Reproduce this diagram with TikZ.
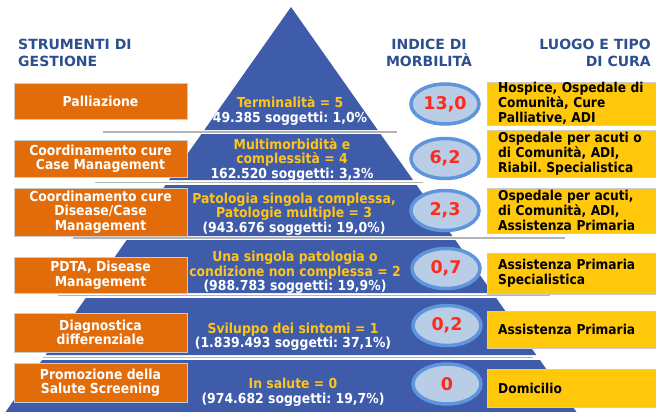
\documentclass[tikz,border=0pt]{standalone}
\usepackage{fontspec}
\setmainfont[FakeStretch=0.9]{DejaVu Sans}
\newfontfamily\headfont{DejaVu Sans}
\newfontfamily\numfont{DejaVu Sans}
\usetikzlibrary{shapes.geometric}
\frenchspacing

\definecolor{pyrblue}{HTML}{3F5CAB}
\definecolor{toolorange}{HTML}{E26B0A}
\definecolor{placeyellow}{HTML}{FFC80A}
\definecolor{idxfill}{HTML}{B9CDE6}
\definecolor{idxring}{HTML}{5F95DC}
\definecolor{idxred}{HTML}{FF2A1A}
\definecolor{headblue}{HTML}{2C4F8E}
\definecolor{lvlgold}{HTML}{FFC41A}
\definecolor{sepgray}{HTML}{B4B4B4}

\begin{document}
\begin{tikzpicture}[x=1pt, y=-1pt,
    head/.style = {font=\headfont\bfseries\fontsize{14}{17}\selectfont, text=headblue, inner sep=0pt},
    tool/.style = {fill=toolorange, draw=black!20, text=white, minimum width=173pt, align=center, inner sep=0pt,
                   font=\bfseries\fontsize{13.8}{14.5}\selectfont},
    place/.style = {fill=placeyellow, draw=black!20, anchor=west, text width=160pt, inner xsep=11pt, inner ysep=0pt,
                    align=left, font=\bfseries\fontsize{13.6}{15}\selectfont},
    idx/.style = {ellipse, draw=idxring, line width=3.5pt, fill=idxfill, minimum width=68pt, minimum height=40pt,
                  inner sep=0pt, text=idxred, font=\numfont\bfseries\fontsize{17.5}{20}\selectfont},
    lvl/.style = {text=white, align=center, font=\bfseries\fontsize{13.8}{14.5}\selectfont},
    shadowline/.style = {draw=sepgray, line width=1.5pt}]

    \useasboundingbox (0,0) rectangle (656,412);

    % titoli
    \node[head, anchor=north west, align=left] (hdtool) at (18,39) {STRUMENTI DI\\GESTIONE};
    \node[head, anchor=north, align=center] (hdindex) at (429,39) {INDICE DI\\MORBILITÀ};
    \node[head, anchor=north east, align=right] (hdplace) at (651,39) {LUOGO E TIPO\\DI CURA};

    % linee di separazione
    \draw[shadowline] (103,132) -- (397,132);
    \draw[shadowline] (95,182.5) -- (423,182.5);
    \draw[shadowline] (73,238) -- (565,238);
    \draw[shadowline] (58,295.5) -- (550,295.5);
    \draw[shadowline] (43,357.5) -- (533,357.5);

    % piramide
    \fill[pyrblue] (291,7) -- (377.7,130) -- (204.3,130) -- cycle;
    \fill[pyrblue] (201.5,134) -- (380.5,134) -- (413,180) -- (169,180) -- cycle;
    \fill[pyrblue] (165.5,185) -- (416.5,185) -- (452.4,236) -- (129.6,236) -- cycle;
    \fill[pyrblue] (126.7,240) -- (455.3,240) -- (492.6,293) -- (89.4,293) -- cycle;
    \fill[pyrblue] (85.8,298) -- (496.2,298) -- (536.3,355) -- (45.7,355) -- cycle;
    \fill[pyrblue] (42.1,360) -- (539.9,360) -- (576.5,412) -- (5.5,412) -- cycle;

    \node[lvl] (lvl5) at (290,111) {\textcolor{lvlgold}{Terminalità = 5}\\49.385 soggetti: 1,0\%};
    \node[lvl] (lvl4) at (292,159.5) {\textcolor{lvlgold}{Multimorbidità e}\\\textcolor{lvlgold}{complessità = 4}\\162.520 soggetti: 3,3\%};
    \node[lvl] (lvl3) at (294,214) {\textcolor{lvlgold}{Patologia singola complessa,}\\\textcolor{lvlgold}{Patologie multiple = 3}\\(943.676 soggetti: 19,0\%)};
    \node[lvl] (lvl2) at (295,272.5) {\textcolor{lvlgold}{Una singola patologia o}\\\textcolor{lvlgold}{condizione non complessa = 2}\\(988.783 soggetti: 19,9\%)};
    \node[lvl] (lvl1) at (293,336.5) {\textcolor{lvlgold}{Sviluppo dei sintomi = 1}\\(1.839.493 soggetti: 37,1\%)};
    \node[lvl] (lvl0) at (293,392) {\textcolor{lvlgold}{In salute = 0}\\(974.682 soggetti: 19,7\%)};

    % strumenti di gestione
    \node[tool, minimum height=36pt] (palliazione) at (100.5,101) {Palliazione};
    \node[tool, minimum height=37pt] (casemgmt) at (100.5,158.5) {Coordinamento cure\\Case Management};
    \node[tool, minimum height=48pt] (diseasemgmt) at (100.5,212) {Coordinamento cure\\Disease/Case\\Management};
    \node[tool, minimum height=36pt] (pdta) at (100.5,275) {PDTA, Disease\\Management};
    \node[tool, minimum height=39pt] (diagnostica) at (100.5,332.5) {Diagnostica\\differenziale};
    \node[tool, minimum height=39pt] (promozione) at (100.5,382.5) {Promozione della\\Salute Screening};

    % indice di morbilita
    \node[idx] (idx5) at (445,104) {13,0};
    \node[idx] (idx4) at (445,158.5) {6,2};
    \node[idx] (idx3) at (445,210.5) {2,3};
    \node[idx] (idx2) at (446,268.5) {0,7};
    \node[idx] (idx1) at (447,325.5) {0,2};
    \node[idx] (idx0) at (447,384) {0};

    % luogo e tipo di cura
    \node[place, minimum height=43pt] (hospice) at (487,103.5) {Hospice, Ospedale di\\Comunità, Cure\\Palliative, ADI};
    \node[place, minimum height=47pt] (ospedale) at (487,153.5) {Ospedale per acuti o\\di Comunità, ADI,\\Riabil. Specialistica};
    \node[place, minimum height=45pt] (acuti) at (487,210.5) {Ospedale per acuti,\\di Comunità, ADI,\\Assistenza Primaria};
    \node[place, minimum height=41pt] (primspec) at (487,273.5) {Assistenza Primaria\\Specialistica};
    \node[place, minimum height=37pt] (primaria) at (487,329.5) {Assistenza Primaria};
    \node[place, minimum height=38pt] (domicilio) at (487,388) {Domicilio};
\end{tikzpicture}
\end{document}
